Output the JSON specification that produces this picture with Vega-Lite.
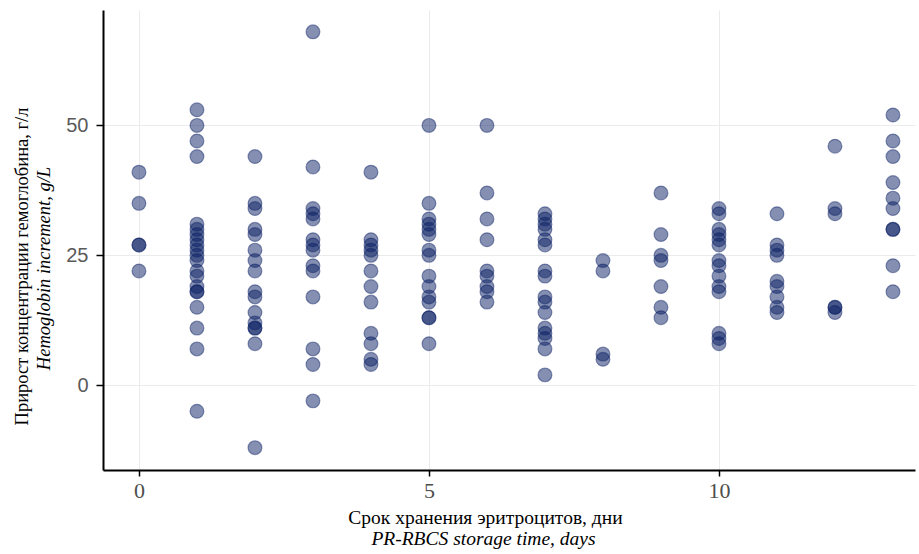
{
  "$schema": "https://vega.github.io/schema/vega-lite/v6.json",
  "width": 812,
  "height": 460,
  "autosize": {"type": "none"},
  "padding": {"left": 103, "top": 10, "right": 4, "bottom": 84},
  "background": "white",
  "config": {"view": {"stroke": null}},
  "data": {"values": [
    {"d":0,"v":41},{"d":0,"v":35},{"d":0,"v":27},{"d":0,"v":27},{"d":0,"v":22},
    {"d":1,"v":53},{"d":1,"v":50},{"d":1,"v":47},{"d":1,"v":44},{"d":1,"v":31},{"d":1,"v":30},{"d":1,"v":29},{"d":1,"v":28},{"d":1,"v":27},{"d":1,"v":26},{"d":1,"v":25},{"d":1,"v":24},{"d":1,"v":22},{"d":1,"v":21},{"d":1,"v":19},{"d":1,"v":18},{"d":1,"v":18},{"d":1,"v":15},{"d":1,"v":11},{"d":1,"v":7},{"d":1,"v":-5},
    {"d":2,"v":44},{"d":2,"v":35},{"d":2,"v":34},{"d":2,"v":30},{"d":2,"v":29},{"d":2,"v":26},{"d":2,"v":24},{"d":2,"v":22},{"d":2,"v":18},{"d":2,"v":17},{"d":2,"v":14},{"d":2,"v":12},{"d":2,"v":11},{"d":2,"v":11},{"d":2,"v":8},{"d":2,"v":-12},
    {"d":3,"v":68},{"d":3,"v":42},{"d":3,"v":34},{"d":3,"v":33},{"d":3,"v":32},{"d":3,"v":28},{"d":3,"v":27},{"d":3,"v":26},{"d":3,"v":23},{"d":3,"v":22},{"d":3,"v":17},{"d":3,"v":7},{"d":3,"v":4},{"d":3,"v":-3},
    {"d":4,"v":41},{"d":4,"v":28},{"d":4,"v":27},{"d":4,"v":26},{"d":4,"v":25},{"d":4,"v":22},{"d":4,"v":19},{"d":4,"v":16},{"d":4,"v":10},{"d":4,"v":8},{"d":4,"v":5},{"d":4,"v":4},
    {"d":5,"v":50},{"d":5,"v":35},{"d":5,"v":32},{"d":5,"v":31},{"d":5,"v":30},{"d":5,"v":29},{"d":5,"v":26},{"d":5,"v":25},{"d":5,"v":21},{"d":5,"v":19},{"d":5,"v":17},{"d":5,"v":16},{"d":5,"v":13},{"d":5,"v":13},{"d":5,"v":8},
    {"d":6,"v":50},{"d":6,"v":37},{"d":6,"v":32},{"d":6,"v":28},{"d":6,"v":22},{"d":6,"v":21},{"d":6,"v":19},{"d":6,"v":18},{"d":6,"v":16},
    {"d":7,"v":33},{"d":7,"v":32},{"d":7,"v":31},{"d":7,"v":30},{"d":7,"v":28},{"d":7,"v":27},{"d":7,"v":22},{"d":7,"v":21},{"d":7,"v":17},{"d":7,"v":16},{"d":7,"v":14},{"d":7,"v":11},{"d":7,"v":10},{"d":7,"v":9},{"d":7,"v":7},{"d":7,"v":2},
    {"d":8,"v":24},{"d":8,"v":22},{"d":8,"v":6},{"d":8,"v":5},
    {"d":9,"v":37},{"d":9,"v":29},{"d":9,"v":25},{"d":9,"v":24},{"d":9,"v":19},{"d":9,"v":15},{"d":9,"v":13},
    {"d":10,"v":34},{"d":10,"v":33},{"d":10,"v":30},{"d":10,"v":29},{"d":10,"v":28},{"d":10,"v":27},{"d":10,"v":24},{"d":10,"v":23},{"d":10,"v":21},{"d":10,"v":19},{"d":10,"v":18},{"d":10,"v":10},{"d":10,"v":9},{"d":10,"v":8},
    {"d":11,"v":33},{"d":11,"v":27},{"d":11,"v":26},{"d":11,"v":25},{"d":11,"v":20},{"d":11,"v":19},{"d":11,"v":17},{"d":11,"v":15},{"d":11,"v":14},
    {"d":12,"v":46},{"d":12,"v":34},{"d":12,"v":33},{"d":12,"v":15},{"d":12,"v":15},{"d":12,"v":14},
    {"d":13,"v":52},{"d":13,"v":47},{"d":13,"v":44},{"d":13,"v":39},{"d":13,"v":36},{"d":13,"v":34},{"d":13,"v":30},{"d":13,"v":30},{"d":13,"v":23},{"d":13,"v":18}
  ]},
  "layer": [
    {
      "mark": {"type": "circle", "size": 190, "fill": "#0a1f63", "fillOpacity": 0.5, "stroke": "#0a1f63", "strokeOpacity": 0.45, "strokeWidth": 1.2},
      "encoding": {
        "x": {"field": "d", "type": "quantitative",
          "scale": {"domain": [-0.62, 13.38], "nice": false, "zero": false},
          "axis": {"values": [0, 5, 10], "orient": "bottom", "grid": true, "gridColor": "#ebebeb", "gridWidth": 1,
            "domainColor": "#000000", "domainWidth": 2, "tickColor": "#000000", "tickWidth": 1.5, "tickSize": 6,
            "labelFont": "Liberation Serif", "labelFontSize": 22, "labelColor": "#4d4d4d", "labelPadding": 4,
            "title": "Срок хранения эритроцитов, дни", "titleFont": "Liberation Serif", "titleFontSize": 19.5,
            "titleFontWeight": "normal", "titleColor": "#000000", "titleX": 382, "titleY": 53,
            "titleBaseline": "alphabetic", "titleAlign": "center", "titleAnchor": null}},
        "y": {"field": "v", "type": "quantitative",
          "scale": {"domain": [-16.3, 72.2], "nice": false, "zero": false},
          "axis": {"values": [0, 25, 50], "orient": "left", "grid": true, "gridColor": "#ebebeb", "gridWidth": 1,
            "domainColor": "#000000", "domainWidth": 2, "tickColor": "#000000", "tickWidth": 1.5, "tickSize": 7,
            "labelFont": "Liberation Sans", "labelFontSize": 20, "labelColor": "#5a5a5a", "labelPadding": 8,
            "title": "Прирост концентрации гемоглобина, г/л", "titleFont": "Liberation Serif", "titleFontSize": 18.5,
            "titleFontWeight": "normal", "titleColor": "#000000", "titleAngle": -90, "titleX": -76, "titleY": 256,
            "titleBaseline": "alphabetic", "titleAlign": "center", "titleAnchor": null}}
      }
    },
    {
      "mark": {"type": "circle", "opacity": 0},
      "encoding": {
        "x": {"field": "d", "type": "quantitative",
          "scale": {"domain": [-0.62, 13.38], "nice": false, "zero": false},
          "axis": {"orient": "bottom", "values": [0, 5, 10], "labels": false, "ticks": false, "domain": false, "grid": false,
            "title": "PR-RBCS storage time, days", "titleFont": "Liberation Serif", "titleFontSize": 19.5,
            "titleFontStyle": "italic", "titleFontWeight": "normal", "titleColor": "#000000",
            "titleX": 380, "titleY": 74, "titleBaseline": "alphabetic", "titleAlign": "center", "titleAnchor": null}},
        "y": {"field": "v", "type": "quantitative",
          "scale": {"domain": [-16.3, 72.2], "nice": false, "zero": false},
          "axis": {"orient": "left", "values": [0, 25, 50], "labels": false, "ticks": false, "domain": false, "grid": false,
            "title": "Hemoglobin increment, g/L", "titleFont": "Liberation Serif", "titleFontSize": 18.5,
            "titleFontStyle": "italic", "titleFontWeight": "normal", "titleColor": "#000000", "titleAngle": -90,
            "titleX": -54, "titleY": 258, "titleBaseline": "alphabetic", "titleAlign": "center", "titleAnchor": null}}
      }
    }
  ],
  "resolve": {"scale": {"x": "independent", "y": "independent"}}
}
